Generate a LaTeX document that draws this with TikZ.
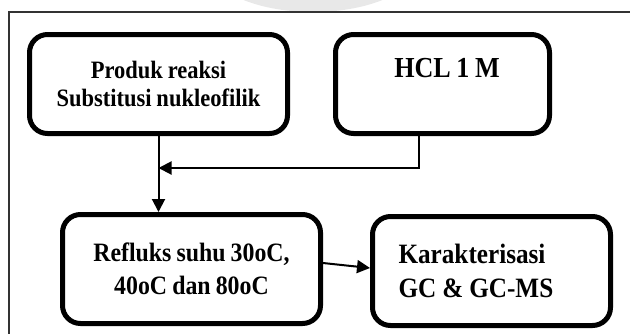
\documentclass[tikz,border=0pt]{standalone}
\usepackage{fontspec}
\setmainfont[FakeStretch=0.9,WordSpace=0.85]{Liberation Serif}
\usetikzlibrary{arrows.meta,positioning}
\pgfdeclarelayer{background}
\pgfsetlayers{background,main}
\tikzset{
  block/.style={draw=black,line width=5pt,rounded corners=18pt,inner sep=0pt},
  flow/.style={-{Triangle[length=13pt,width=13pt]},line width=2pt}
}
\newcommand{\Arrow}[3]% from, path op, to
{ \begin{pgfonlayer}{background}
    \draw[flow] (#1) #2 (#3);
  \end{pgfonlayer}}

\begin{document}
\begin{tikzpicture}[x=1pt,y=-1pt]
  \useasboundingbox (0,0) rectangle (630,333);
  % faint mark above the frame
  \begin{scope}
    \clip (0,0) rectangle (630,11);
    \fill[gray!18] (313,-36) ellipse (105 and 48);
  \end{scope}
  \draw[line width=2pt,black!80] (9,340) -- (9,12) -- (640,12);

  \node[block,minimum width=258pt,minimum height=99pt,align=center,
    font=\bfseries\fontsize{25}{28}\selectfont] (produk) at (158.5,84)
    {Produk reaksi\\Substitusi nukleofilik};
  \node[block,minimum width=214pt,minimum height=99pt] (hcl) at (442.5,84) {};
  \node[anchor=base,font=\bfseries\fontsize{29}{32}\selectfont] (hcltext) at (447,77) {HCL 1 M};
  \node[block,minimum width=258pt,minimum height=109pt,align=center,
    font=\bfseries\fontsize{26.5}{33}\selectfont] (refluks) at (191.5,269)
    {Refluks suhu 30oC,\\40oC dan 80oC};
  \node[block,minimum width=238pt,minimum height=109pt,text width=186pt,align=left,
    font=\bfseries\fontsize{28}{34}\selectfont] (karakter) at (491.5,271)
    {Karakterisasi\\GC\hspace{6pt}\&\hspace{6pt}GC-MS};

  \coordinate (merge) at (produk.south |- 0,168);
  \Arrow{produk.south}{--}{produk.south |- refluks.north}
  \Arrow{[xshift=-23.5pt]hcl.south}{|-}{merge}
  \Arrow{[yshift=6pt]refluks.east}{--}{[yshift=3pt]karakter.west}
\end{tikzpicture}
\end{document}
